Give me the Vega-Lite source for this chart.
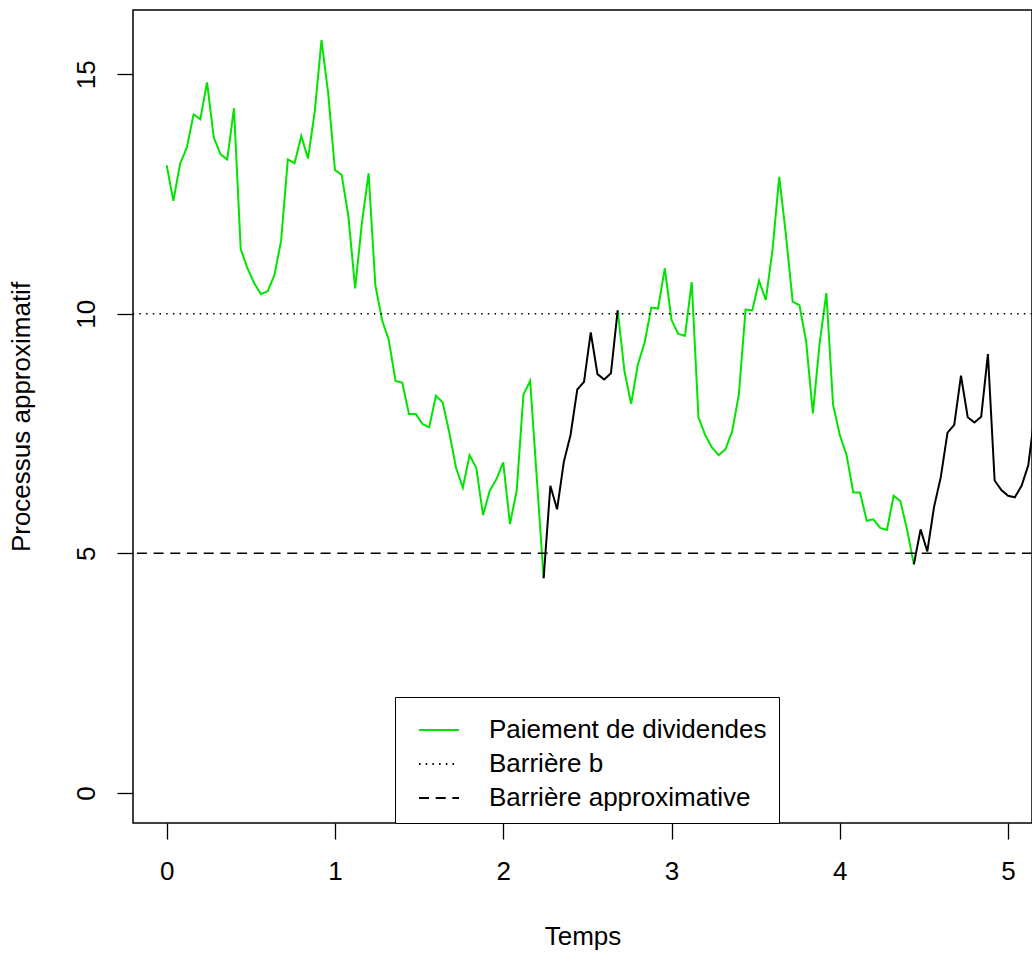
{
  "$schema": "https://vega.github.io/schema/vega-lite/v6.json",
  "width": 899,
  "height": 813,
  "autosize": {"type": "none"},
  "padding": {"left": 133, "top": 10, "right": 0, "bottom": 130},
  "background": "white",
  "config": {
    "font": "Liberation Sans",
    "view": {"stroke": "black", "strokeWidth": 1.5},
    "axis": {
      "domain": false,
      "grid": false,
      "tickColor": "black",
      "tickWidth": 1.3,
      "tickSize": 16,
      "labelFont": "Liberation Sans",
      "labelFontSize": 26,
      "labelColor": "black",
      "titleFont": "Liberation Sans",
      "titleFontSize": 26,
      "titleFontWeight": "normal",
      "titleColor": "black"
    },
    "legend": {
      "orient": "none",
      "legendX": 262,
      "legendY": 687,
      "fillColor": "white",
      "strokeColor": "black",
      "padding": 12,
      "symbolType": "stroke",
      "symbolSize": 1600,
      "symbolStrokeWidth": 2,
      "symbolOffset": 11,
      "labelFont": "Liberation Sans",
      "labelFontSize": 26,
      "labelColor": "black",
      "labelLimit": 0,
      "labelOffset": 29,
      "rowPadding": 0
    }
  },
  "datasets": {
    "trajectoire": [
      {"t": 0.00, "v": 13.10, "seg": "A", "paiement": true},
      {"t": 0.04, "v": 12.36, "seg": "A", "paiement": true},
      {"t": 0.08, "v": 13.13, "seg": "A", "paiement": true},
      {"t": 0.12, "v": 13.47, "seg": "A", "paiement": true},
      {"t": 0.16, "v": 14.16, "seg": "A", "paiement": true},
      {"t": 0.20, "v": 14.06, "seg": "A", "paiement": true},
      {"t": 0.24, "v": 14.83, "seg": "A", "paiement": true},
      {"t": 0.28, "v": 13.68, "seg": "A", "paiement": true},
      {"t": 0.32, "v": 13.33, "seg": "A", "paiement": true},
      {"t": 0.36, "v": 13.22, "seg": "A", "paiement": true},
      {"t": 0.40, "v": 14.29, "seg": "A", "paiement": true},
      {"t": 0.44, "v": 11.35, "seg": "A", "paiement": true},
      {"t": 0.48, "v": 10.95, "seg": "A", "paiement": true},
      {"t": 0.52, "v": 10.64, "seg": "A", "paiement": true},
      {"t": 0.56, "v": 10.41, "seg": "A", "paiement": true},
      {"t": 0.60, "v": 10.47, "seg": "A", "paiement": true},
      {"t": 0.64, "v": 10.80, "seg": "A", "paiement": true},
      {"t": 0.68, "v": 11.52, "seg": "A", "paiement": true},
      {"t": 0.72, "v": 13.22, "seg": "A", "paiement": true},
      {"t": 0.76, "v": 13.14, "seg": "A", "paiement": true},
      {"t": 0.80, "v": 13.71, "seg": "A", "paiement": true},
      {"t": 0.84, "v": 13.24, "seg": "A", "paiement": true},
      {"t": 0.88, "v": 14.22, "seg": "A", "paiement": true},
      {"t": 0.92, "v": 15.71, "seg": "A", "paiement": true},
      {"t": 0.96, "v": 14.60, "seg": "A", "paiement": true},
      {"t": 1.00, "v": 13.00, "seg": "A", "paiement": true},
      {"t": 1.04, "v": 12.90, "seg": "A", "paiement": true},
      {"t": 1.08, "v": 12.03, "seg": "A", "paiement": true},
      {"t": 1.12, "v": 10.53, "seg": "A", "paiement": true},
      {"t": 1.16, "v": 11.89, "seg": "A", "paiement": true},
      {"t": 1.20, "v": 12.93, "seg": "A", "paiement": true},
      {"t": 1.24, "v": 10.60, "seg": "A", "paiement": true},
      {"t": 1.28, "v": 9.87, "seg": "A", "paiement": true},
      {"t": 1.32, "v": 9.45, "seg": "A", "paiement": true},
      {"t": 1.36, "v": 8.60, "seg": "A", "paiement": true},
      {"t": 1.40, "v": 8.56, "seg": "A", "paiement": true},
      {"t": 1.44, "v": 7.91, "seg": "A", "paiement": true},
      {"t": 1.48, "v": 7.91, "seg": "A", "paiement": true},
      {"t": 1.52, "v": 7.70, "seg": "A", "paiement": true},
      {"t": 1.56, "v": 7.63, "seg": "A", "paiement": true},
      {"t": 1.60, "v": 8.29, "seg": "A", "paiement": true},
      {"t": 1.64, "v": 8.15, "seg": "A", "paiement": true},
      {"t": 1.68, "v": 7.51, "seg": "A", "paiement": true},
      {"t": 1.72, "v": 6.78, "seg": "A", "paiement": true},
      {"t": 1.76, "v": 6.37, "seg": "A", "paiement": true},
      {"t": 1.80, "v": 7.05, "seg": "A", "paiement": true},
      {"t": 1.84, "v": 6.78, "seg": "A", "paiement": true},
      {"t": 1.88, "v": 5.80, "seg": "A", "paiement": true},
      {"t": 1.92, "v": 6.31, "seg": "A", "paiement": true},
      {"t": 1.96, "v": 6.55, "seg": "A", "paiement": true},
      {"t": 2.00, "v": 6.90, "seg": "A", "paiement": true},
      {"t": 2.04, "v": 5.61, "seg": "A", "paiement": true},
      {"t": 2.08, "v": 6.31, "seg": "A", "paiement": true},
      {"t": 2.12, "v": 8.31, "seg": "A", "paiement": true},
      {"t": 2.16, "v": 8.60, "seg": "A", "paiement": true},
      {"t": 2.20, "v": 6.54, "seg": "A", "paiement": true},
      {"t": 2.24, "v": 4.48, "seg": "A", "paiement": true},
      {"t": 2.24, "v": 4.48, "seg": "B", "paiement": false},
      {"t": 2.28, "v": 6.41, "seg": "B", "paiement": false},
      {"t": 2.32, "v": 5.92, "seg": "B", "paiement": false},
      {"t": 2.36, "v": 6.91, "seg": "B", "paiement": false},
      {"t": 2.40, "v": 7.47, "seg": "B", "paiement": false},
      {"t": 2.44, "v": 8.42, "seg": "B", "paiement": false},
      {"t": 2.48, "v": 8.58, "seg": "B", "paiement": false},
      {"t": 2.52, "v": 9.61, "seg": "B", "paiement": false},
      {"t": 2.56, "v": 8.74, "seg": "B", "paiement": false},
      {"t": 2.60, "v": 8.63, "seg": "B", "paiement": false},
      {"t": 2.64, "v": 8.76, "seg": "B", "paiement": false},
      {"t": 2.68, "v": 10.07, "seg": "B", "paiement": false},
      {"t": 2.68, "v": 10.07, "seg": "C", "paiement": true},
      {"t": 2.72, "v": 8.81, "seg": "C", "paiement": true},
      {"t": 2.76, "v": 8.12, "seg": "C", "paiement": true},
      {"t": 2.80, "v": 8.94, "seg": "C", "paiement": true},
      {"t": 2.84, "v": 9.40, "seg": "C", "paiement": true},
      {"t": 2.88, "v": 10.13, "seg": "C", "paiement": true},
      {"t": 2.92, "v": 10.11, "seg": "C", "paiement": true},
      {"t": 2.96, "v": 10.95, "seg": "C", "paiement": true},
      {"t": 3.00, "v": 9.87, "seg": "C", "paiement": true},
      {"t": 3.04, "v": 9.58, "seg": "C", "paiement": true},
      {"t": 3.08, "v": 9.54, "seg": "C", "paiement": true},
      {"t": 3.12, "v": 10.66, "seg": "C", "paiement": true},
      {"t": 3.16, "v": 7.84, "seg": "C", "paiement": true},
      {"t": 3.20, "v": 7.47, "seg": "C", "paiement": true},
      {"t": 3.24, "v": 7.21, "seg": "C", "paiement": true},
      {"t": 3.28, "v": 7.05, "seg": "C", "paiement": true},
      {"t": 3.32, "v": 7.17, "seg": "C", "paiement": true},
      {"t": 3.36, "v": 7.54, "seg": "C", "paiement": true},
      {"t": 3.40, "v": 8.31, "seg": "C", "paiement": true},
      {"t": 3.44, "v": 10.09, "seg": "C", "paiement": true},
      {"t": 3.48, "v": 10.07, "seg": "C", "paiement": true},
      {"t": 3.52, "v": 10.69, "seg": "C", "paiement": true},
      {"t": 3.56, "v": 10.29, "seg": "C", "paiement": true},
      {"t": 3.60, "v": 11.33, "seg": "C", "paiement": true},
      {"t": 3.64, "v": 12.86, "seg": "C", "paiement": true},
      {"t": 3.68, "v": 11.64, "seg": "C", "paiement": true},
      {"t": 3.72, "v": 10.25, "seg": "C", "paiement": true},
      {"t": 3.76, "v": 10.18, "seg": "C", "paiement": true},
      {"t": 3.80, "v": 9.42, "seg": "C", "paiement": true},
      {"t": 3.84, "v": 7.92, "seg": "C", "paiement": true},
      {"t": 3.88, "v": 9.38, "seg": "C", "paiement": true},
      {"t": 3.92, "v": 10.43, "seg": "C", "paiement": true},
      {"t": 3.96, "v": 8.10, "seg": "C", "paiement": true},
      {"t": 4.00, "v": 7.47, "seg": "C", "paiement": true},
      {"t": 4.04, "v": 7.05, "seg": "C", "paiement": true},
      {"t": 4.08, "v": 6.27, "seg": "C", "paiement": true},
      {"t": 4.12, "v": 6.27, "seg": "C", "paiement": true},
      {"t": 4.16, "v": 5.68, "seg": "C", "paiement": true},
      {"t": 4.20, "v": 5.71, "seg": "C", "paiement": true},
      {"t": 4.24, "v": 5.53, "seg": "C", "paiement": true},
      {"t": 4.28, "v": 5.49, "seg": "C", "paiement": true},
      {"t": 4.32, "v": 6.20, "seg": "C", "paiement": true},
      {"t": 4.36, "v": 6.09, "seg": "C", "paiement": true},
      {"t": 4.40, "v": 5.49, "seg": "C", "paiement": true},
      {"t": 4.44, "v": 4.77, "seg": "C", "paiement": true},
      {"t": 4.44, "v": 4.77, "seg": "D", "paiement": false},
      {"t": 4.48, "v": 5.50, "seg": "D", "paiement": false},
      {"t": 4.52, "v": 5.04, "seg": "D", "paiement": false},
      {"t": 4.56, "v": 5.97, "seg": "D", "paiement": false},
      {"t": 4.60, "v": 6.59, "seg": "D", "paiement": false},
      {"t": 4.64, "v": 7.52, "seg": "D", "paiement": false},
      {"t": 4.68, "v": 7.68, "seg": "D", "paiement": false},
      {"t": 4.72, "v": 8.71, "seg": "D", "paiement": false},
      {"t": 4.76, "v": 7.84, "seg": "D", "paiement": false},
      {"t": 4.80, "v": 7.73, "seg": "D", "paiement": false},
      {"t": 4.84, "v": 7.85, "seg": "D", "paiement": false},
      {"t": 4.88, "v": 9.16, "seg": "D", "paiement": false},
      {"t": 4.92, "v": 6.52, "seg": "D", "paiement": false},
      {"t": 4.96, "v": 6.32, "seg": "D", "paiement": false},
      {"t": 5.00, "v": 6.20, "seg": "D", "paiement": false},
      {"t": 5.04, "v": 6.17, "seg": "D", "paiement": false},
      {"t": 5.08, "v": 6.41, "seg": "D", "paiement": false},
      {"t": 5.12, "v": 6.84, "seg": "D", "paiement": false},
      {"t": 5.16, "v": 7.95, "seg": "D", "paiement": false}
    ],
    "barrieres": [
      {"v": 10, "serie": "Barrière b"},
      {"v": 5, "serie": "Barrière approximative"}
    ]
  },
  "layer": [
    {
      "data": {"name": "trajectoire"},
      "transform": [
        {"filter": "datum.paiement"},
        {"calculate": "'Paiement de dividendes'", "as": "serie"}
      ],
      "mark": {"type": "line", "strokeWidth": 2, "clip": true},
      "encoding": {
        "x": {
          "field": "t",
          "type": "quantitative",
          "scale": {"domain": [-0.2, 5.142], "nice": false, "zero": false},
          "axis": {"title": "Temps", "values": [0, 1, 2, 3, 4, 5], "format": "d", "labelPadding": 19, "titlePadding": 39}
        },
        "y": {
          "field": "v",
          "type": "quantitative",
          "scale": {"domain": [-0.628, 16.34], "nice": false, "zero": false},
          "axis": {"title": "Processus approximatif", "values": [0, 5, 10, 15], "format": "d", "labelAngle": -90, "labelPadding": 18, "titlePadding": 39}
        },
        "detail": {"field": "seg"},
        "order": {"field": "t", "type": "quantitative"},
        "color": {
          "field": "serie",
          "type": "nominal",
          "title": null,
          "scale": {
            "domain": ["Paiement de dividendes", "Barrière b", "Barrière approximative"],
            "range": ["#00E400", "black", "black"]
          }
        },
        "strokeDash": {
          "field": "serie",
          "type": "nominal",
          "title": null,
          "scale": {
            "domain": ["Paiement de dividendes", "Barrière b", "Barrière approximative"],
            "range": [[1, 0], [1.5, 5.2], [10, 6.7]]
          }
        }
      }
    },
    {
      "data": {"name": "trajectoire"},
      "transform": [{"filter": "!datum.paiement"}],
      "mark": {"type": "line", "strokeWidth": 2, "clip": true, "color": "black"},
      "encoding": {
        "x": {"field": "t", "type": "quantitative"},
        "y": {"field": "v", "type": "quantitative"},
        "detail": {"field": "seg"},
        "order": {"field": "t", "type": "quantitative"}
      }
    },
    {
      "data": {"name": "barrieres"},
      "mark": {"type": "rule", "strokeWidth": 1.5},
      "encoding": {
        "y": {"field": "v", "type": "quantitative"},
        "color": {"field": "serie", "type": "nominal", "title": null},
        "strokeDash": {"field": "serie", "type": "nominal", "title": null}
      }
    }
  ]
}
